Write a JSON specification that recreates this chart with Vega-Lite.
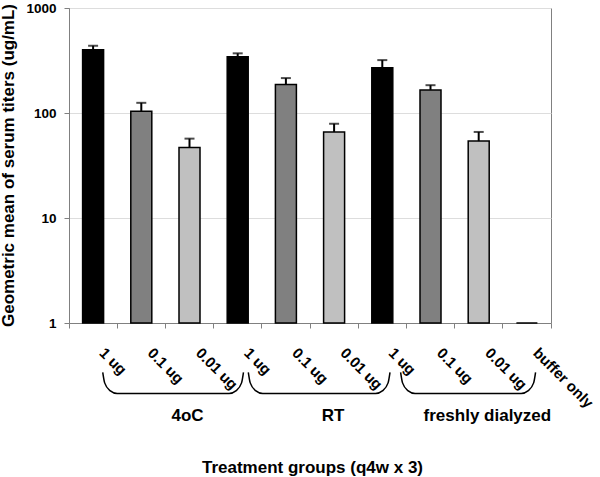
{
  "$schema": "https://vega.github.io/schema/vega-lite/v6.json",
  "width": 482,
  "height": 315,
  "autosize": {"type": "none"},
  "padding": {"left": 69, "top": 8, "right": 49, "bottom": 154},
  "background": "white",
  "config": {
    "font": "Liberation Sans",
    "view": {"stroke": "#808080", "strokeWidth": 1}
  },
  "datasets": {
    "titers": [
      {"bar": "4oC|1 ug", "group": "4oC", "dose": "1 ug", "gmt": 400, "upper": 437},
      {"bar": "4oC|0.1 ug", "group": "4oC", "dose": "0.1 ug", "gmt": 104, "upper": 125},
      {"bar": "4oC|0.01 ug", "group": "4oC", "dose": "0.01 ug", "gmt": 47, "upper": 57},
      {"bar": "RT|1 ug", "group": "RT", "dose": "1 ug", "gmt": 343, "upper": 370},
      {"bar": "RT|0.1 ug", "group": "RT", "dose": "0.1 ug", "gmt": 187, "upper": 215},
      {"bar": "RT|0.01 ug", "group": "RT", "dose": "0.01 ug", "gmt": 66, "upper": 79},
      {"bar": "freshly dialyzed|1 ug", "group": "freshly dialyzed", "dose": "1 ug", "gmt": 270, "upper": 319},
      {"bar": "freshly dialyzed|0.1 ug", "group": "freshly dialyzed", "dose": "0.1 ug", "gmt": 166, "upper": 184},
      {"bar": "freshly dialyzed|0.01 ug", "group": "freshly dialyzed", "dose": "0.01 ug", "gmt": 54, "upper": 66},
      {"bar": "buffer|buffer only", "group": "buffer", "dose": "buffer only", "gmt": 1, "upper": null}
    ],
    "braces": [
      {"group": "4oC", "bx": 0.70, "by": 0.339},
      {"group": "4oC", "bx": 0.74, "by": 0.269},
      {"group": "4oC", "bx": 0.85, "by": 0.227},
      {"group": "4oC", "bx": 1.00, "by": 0.213},
      {"group": "4oC", "bx": 3.32, "by": 0.213},
      {"group": "4oC", "bx": 3.47, "by": 0.227},
      {"group": "4oC", "bx": 3.58, "by": 0.269},
      {"group": "4oC", "bx": 3.62, "by": 0.339},
      {"group": "RT", "bx": 3.72, "by": 0.339},
      {"group": "RT", "bx": 3.76, "by": 0.269},
      {"group": "RT", "bx": 3.87, "by": 0.227},
      {"group": "RT", "bx": 4.02, "by": 0.213},
      {"group": "RT", "bx": 6.36, "by": 0.213},
      {"group": "RT", "bx": 6.51, "by": 0.227},
      {"group": "RT", "bx": 6.62, "by": 0.269},
      {"group": "RT", "bx": 6.66, "by": 0.339},
      {"group": "freshly dialyzed", "bx": 6.88, "by": 0.339},
      {"group": "freshly dialyzed", "bx": 6.92, "by": 0.269},
      {"group": "freshly dialyzed", "bx": 7.03, "by": 0.227},
      {"group": "freshly dialyzed", "bx": 7.18, "by": 0.213},
      {"group": "freshly dialyzed", "bx": 9.38, "by": 0.213},
      {"group": "freshly dialyzed", "bx": 9.53, "by": 0.227},
      {"group": "freshly dialyzed", "bx": 9.64, "by": 0.269},
      {"group": "freshly dialyzed", "bx": 9.68, "by": 0.339}
    ],
    "groups": [
      {"group": "4oC", "gx": 2.46, "gy": 0.129},
      {"group": "RT", "gx": 5.48, "gy": 0.129},
      {"group": "freshly dialyzed", "gx": 8.68, "gy": 0.129}
    ]
  },
  "layer": [
    {
      "data": {"name": "titers"},
      "encoding": {
        "x": {
          "field": "bar",
          "type": "nominal",
          "sort": null,
          "title": "Treatment groups (q4w x 3)",
          "scale": {"paddingInner": 0, "paddingOuter": 0},
          "axis": {
            "labelExpr": "split(datum.label, '|')[1]",
            "labelAngle": 45,
            "labelAlign": "left",
            "labelBaseline": "middle",
            "labelFontSize": 15,
            "labelFontWeight": "bold",
            "labelColor": "black",
            "labelOffset": 9,
            "labelPadding": 22,
            "labelOverlap": false,
            "labelBound": false,
            "labelFlush": false,
            "bandPosition": 1,
            "tickExtra": true,
            "tickSize": 5,
            "tickColor": "#808080",
            "domainColor": "#808080",
            "titleFontSize": 17,
            "titleFontWeight": "bold",
            "titleColor": "black",
            "titleX": 243,
            "titleY": 149,
            "titleAlign": "center",
            "titleBaseline": "alphabetic"
          }
        }
      },
      "layer": [
        {
          "mark": {"type": "bar", "size": 21, "stroke": "black", "strokeWidth": 1.5},
          "encoding": {
            "y": {
              "field": "gmt",
              "type": "quantitative",
              "title": "Geometric mean of serum titers (ug/mL)",
              "scale": {"type": "log", "domain": [1, 1000]},
              "axis": {
                "values": [1, 10, 100, 1000],
                "format": "d",
                "labelFontSize": 13.5,
                "labelFontWeight": "bold",
                "labelColor": "black",
                "labelPadding": 8,
                "tickSize": 5,
                "tickColor": "#808080",
                "domainColor": "#808080",
                "grid": true,
                "gridColor": "#dddddd",
                "titleFontSize": 17,
                "titleFontWeight": "bold",
                "titleColor": "black",
                "titleAngle": -90,
                "titleX": -61,
                "titleY": 157,
                "titleAlign": "center",
                "titleBaseline": "middle"
              }
            },
            "y2": {"datum": 1},
            "color": {
              "field": "dose",
              "type": "nominal",
              "scale": {
                "domain": ["1 ug", "0.1 ug", "0.01 ug", "buffer only"],
                "range": ["#000000", "#808080", "#c0c0c0", "#000000"]
              },
              "legend": null
            }
          }
        },
        {
          "transform": [{"filter": "isValid(datum.upper)"}],
          "mark": {"type": "rule", "strokeWidth": 2, "color": "black"},
          "encoding": {
            "y": {
              "field": "gmt",
              "type": "quantitative",
              "title": "Geometric mean of serum titers (ug/mL)",
              "scale": {"type": "log", "domain": [1, 1000]}
            },
            "y2": {"field": "upper"}
          }
        },
        {
          "transform": [{"filter": "isValid(datum.upper)"}],
          "mark": {"type": "tick", "size": 10, "thickness": 2, "color": "black"},
          "encoding": {
            "y": {
              "field": "upper",
              "type": "quantitative",
              "title": "Geometric mean of serum titers (ug/mL)",
              "scale": {"type": "log", "domain": [1, 1000]}
            }
          }
        }
      ]
    },
    {
      "layer": [
        {
          "data": {"name": "braces"},
          "mark": {"type": "line", "interpolate": "monotone", "color": "black", "strokeWidth": 1.5},
          "encoding": {
            "x": {"field": "bx", "type": "quantitative", "scale": {"domain": [0, 10], "nice": false, "zero": false}, "axis": null},
            "y": {"field": "by", "type": "quantitative", "scale": {"type": "log", "domain": [1, 1000]}, "axis": null},
            "detail": {"field": "group"}
          }
        },
        {
          "data": {"name": "groups"},
          "mark": {"type": "text", "fontSize": 17, "fontWeight": "bold", "align": "center", "baseline": "middle", "color": "black"},
          "encoding": {
            "x": {"field": "gx", "type": "quantitative", "scale": {"domain": [0, 10], "nice": false, "zero": false}, "axis": null},
            "y": {"field": "gy", "type": "quantitative", "scale": {"type": "log", "domain": [1, 1000]}, "axis": null},
            "text": {"field": "group"}
          }
        }
      ]
    }
  ],
  "resolve": {"scale": {"x": "independent"}, "axis": {"y": "independent"}}
}
